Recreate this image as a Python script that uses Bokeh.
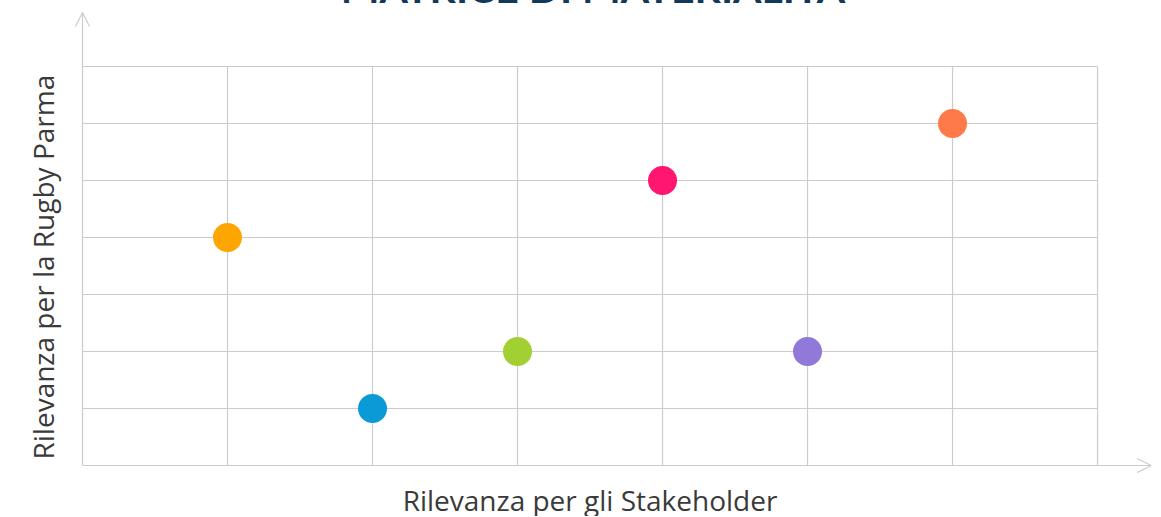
from bokeh.plotting import figure
from bokeh.models import Label, Arrow, OpenHead, Range1d
from bokeh.embed import file_html
from bokeh.resources import INLINE

# data
stake = [1, 2, 3, 4, 5, 6]
rugby = [4, 1, 2, 5, 2, 6]
colors = ["#ffa500", "#0a9bd6", "#a2d033", "#ff1670", "#9079d9", "#ff7a4a"]
ticks = [1, 2, 3, 4, 5, 6, 7]
title_text = "MATRICE DI MATERIALITÀ"
xlabel = "Rilevanza per gli Stakeholder"
ylabel = "Rilevanza per la Rugby Parma"

GRID = "#cccccc"
FONT = "Open Sans"

p = figure(width=1152, height=536, output_backend="svg", toolbar_location=None,
           x_range=Range1d(-0.5655, 7.379), y_range=Range1d(-0.895, 8.509),
           min_border=0, margin=(-20, 0, 0, 0))
p.axis.visible = False
p.grid.visible = False
p.outline_line_color = None
p.background_fill_color = "white"
p.border_fill_color = "white"

top = max(ticks)
# vertical grid lines
p.segment(x0=ticks, y0=[0] * len(ticks), x1=ticks, y1=[top] * len(ticks),
          line_color=GRID, line_width=1.2)
# horizontal grid lines
p.segment(x0=[0] * len(ticks), y0=ticks, x1=[top] * len(ticks), y1=ticks,
          line_color=GRID, line_width=1.2)

# axes with arrows
p.add_layout(Arrow(x_start=0, y_start=0, x_end=7.37, y_end=0, line_color=GRID, line_width=1.2,
                   end=OpenHead(size=14, line_color=GRID, line_width=1.2)))
p.add_layout(Arrow(x_start=0, y_start=0, x_end=0, y_end=7.947, line_color=GRID, line_width=1.2,
                   end=OpenHead(size=14, line_color=GRID, line_width=1.2)))

# points
p.scatter(stake, rugby, size=29, fill_color=colors, line_color=None)

# labels
p.add_layout(Label(x=3.52, y=8.38, text=title_text, text_align="center", text_baseline="alphabetic",
                   text_font="Lato", text_font_size="41px", text_font_style="bold",
                   text_color="#12395a"))
p.add_layout(Label(x=3.5, y=-0.61, text=xlabel, text_align="center", text_baseline="middle",
                   text_font=FONT, text_font_size="28px", text_color="#3a3a3a"))
p.add_layout(Label(x=-0.27, y=3.48, text=ylabel, text_align="center", text_baseline="middle",
                   angle=1.5708, text_font=FONT, text_font_size="28px", text_color="#3a3a3a"))

open("out.html", "w").write(file_html(p, INLINE))
